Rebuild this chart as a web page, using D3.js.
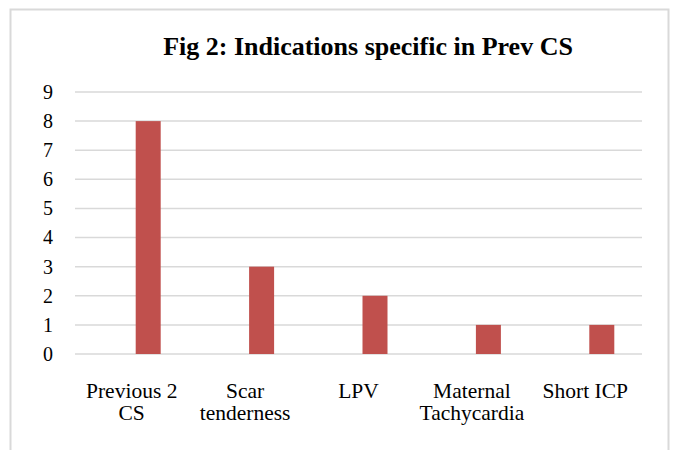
<!DOCTYPE html>
<html>
<head>
<meta charset="utf-8">
<script src="https://d3js.org/d3.v7.min.js"></script>
<style>
  body { margin: 0; background: #fff; }
  svg text { font-family: "Liberation Serif", "Times New Roman", Times, serif !important; fill: #000; }
</style>
</head>
<body>
<div id="chart"></div>
<script>
const categories = ["Previous 2 CS", "Scar tenderness", "LPV", "Maternal Tachycardia", "Short ICP"];
const tickLabels = [["Previous 2", "CS"], ["Scar", "tenderness"], ["LPV"], ["Maternal", "Tachycardia"], ["Short ICP"]];
const values = [8, 3, 2, 1, 1];
const yTicks = [0, 1, 2, 3, 4, 5, 6, 7, 8, 9];
const title = "Fig 2: Indications specific in Prev CS";

const W = 674, H = 450;
const plot = { left: 75, right: 642, top: 92, bottom: 354 };

const svg = d3.select("#chart")
    .append("svg")
    .attr("width", W)
    .attr("height", H);

// outer frame
svg.append("rect")
    .attr("x", 10.5).attr("y", 9.5)
    .attr("width", 658).attr("height", 460)
    .attr("fill", "none")
    .attr("stroke", "#d9d9d9")
    .attr("stroke-width", 2);

svg.append("text")
    .attr("x", 368)
    .attr("y", 55)
    .attr("text-anchor", "middle")
    .attr("font-size", "26px")
    .attr("font-weight", "bold")
    .text(title);

const x = d3.scaleBand()
    .domain(categories)
    .range([plot.left, plot.right]);

const y = d3.scaleLinear()
    .domain([0, 9])
    .range([plot.bottom, plot.top]);

// gridlines
svg.append("g")
    .selectAll("line")
    .data(yTicks)
    .join("line")
    .attr("x1", plot.left)
    .attr("x2", plot.right)
    .attr("y1", d => y(d))
    .attr("y2", d => y(d))
    .attr("stroke", "#d9d9d9")
    .attr("stroke-width", 1.5);

// y axis labels
const yAxis = svg.append("g")
    .attr("transform", `translate(${plot.left - 22},0)`)
    .call(d3.axisLeft(y).tickValues(yTicks).tickSize(0).tickPadding(0));
yAxis.select(".domain").remove();
yAxis.selectAll("text")
    .attr("font-size", "20px")
    .attr("fill", "#000");

// bars (offset right of category center, as in the original)
const barW = 25;
svg.selectAll(".bar")
    .data(values)
    .join("rect")
    .attr("class", "bar")
    .attr("x", (d, i) => x(categories[i]) + x.bandwidth() / 2 + 4)
    .attr("y", d => y(d))
    .attr("width", barW)
    .attr("height", d => y(0) - y(d))
    .attr("fill", "#c0504d");

// x labels
const xl = svg.append("g")
    .selectAll("text")
    .data(tickLabels)
    .join("text")
    .attr("text-anchor", "middle")
    .attr("font-size", "21.5px")
    .attr("x", (d, i) => x(categories[i]) + x.bandwidth() / 2)
    .attr("y", 398);
xl.selectAll("tspan")
    .data(d => d)
    .join("tspan")
    .attr("x", function () { return d3.select(this.parentNode).attr("x"); })
    .attr("dy", (d, i) => i === 0 ? 0 : 22)
    .text(d => d);
</script>
</body>
</html>
